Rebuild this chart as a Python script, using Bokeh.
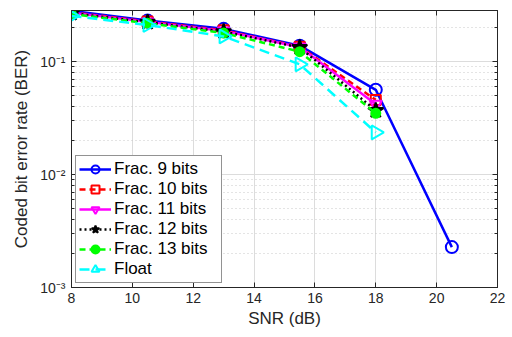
import math
from bokeh.plotting import figure
from bokeh.models import (Legend, LegendItem, LinearAxis, LogAxis, FixedTicker,
                          Range1d)
from bokeh.embed import file_html
from bokeh.resources import INLINE

snr = [8, 10.5, 13, 15.5, 18, 20.5]
frac9 = [0.283, 0.232, 0.196, 0.139, 0.0565, 0.00228]
frac10 = [0.275, 0.228, 0.190, 0.136, 0.046]
frac11 = [0.272, 0.226, 0.188, 0.135, 0.042]
frac12 = [0.270, 0.224, 0.185, 0.134, 0.037]
frac13 = [0.265, 0.220, 0.180, 0.123, 0.035]
float_ber = [0.255, 0.212, 0.168, 0.095, 0.0237]
labels = ["Frac. 9 bits", "Frac. 10 bits", "Frac. 11 bits", "Frac. 12 bits",
          "Frac. 13 bits", "Float"]
x_ticks = [8, 10, 12, 14, 16, 18, 20, 22]
y_ticks = [0.001, 0.01, 0.1]
y_tick_labels = {0.001: "10\u207b\u00b3", 0.01: "10\u207b\u00b2", 0.1: "10\u207b\u00b9"}

FONT = "Liberation Sans"
AX = "#262626"
minor = [m * 10.0**e for e in (-3, -2, -1) for m in range(2, 10)]

p = figure(width=512, height=337, output_backend="svg", toolbar_location=None,
           y_axis_type="log", x_range=Range1d(8, 22), y_range=Range1d(0.001, 0.285),
           min_border_left=71, min_border_right=15, min_border_top=10,
           min_border_bottom=50)
p.frame_width = 426
p.frame_height = 277
p.outline_line_color = AX
p.outline_line_width = 1
p.background_fill_color = "white"
p.border_fill_color = "white"

def style_axis(ax, labels_on=True):
    ax.axis_line_color = AX
    ax.major_tick_line_color = AX
    ax.minor_tick_line_color = AX
    ax.major_tick_in = 5
    ax.major_tick_out = 0
    ax.minor_tick_in = 3
    ax.minor_tick_out = 0
    ax.major_label_text_font = FONT
    ax.major_label_text_font_size = "14px"
    ax.major_label_text_color = AX
    ax.axis_label_text_font = FONT
    ax.axis_label_text_font_size = "17px"
    ax.axis_label_text_font_style = "normal"
    ax.axis_label_text_color = AX
    if not labels_on:
        ax.major_label_text_color = None

xa = p.xaxis[0]
xa.ticker = FixedTicker(ticks=x_ticks)
xa.axis_label = "SNR (dB)"
style_axis(xa)
xa.minor_tick_line_color = None
xa.major_label_standoff = 5
xa.axis_label_standoff = 3

ya = p.yaxis[0]
ya.ticker = FixedTicker(ticks=y_ticks, minor_ticks=minor)
ya.axis_label = "Coded bit error rate (BER)"
ya.major_label_overrides = y_tick_labels
style_axis(ya)
ya.major_label_standoff = 6
ya.axis_label_standoff = 6

top = LinearAxis(ticker=FixedTicker(ticks=x_ticks))
style_axis(top, False)
top.minor_tick_line_color = None
top.major_label_standoff = 0
p.add_layout(top, "above")
right = LogAxis(ticker=FixedTicker(ticks=y_ticks, minor_ticks=minor))
style_axis(right, False)
right.major_label_standoff = 0
p.add_layout(right, "right")

p.xgrid.ticker = FixedTicker(ticks=x_ticks)
p.xgrid.grid_line_color = "#dcdcdc"
p.ygrid.grid_line_color = "#dcdcdc"
p.ygrid.minor_grid_line_color = "#c8c8c8"
p.ygrid.minor_grid_line_dash = "1 3"

series = [
    (frac9, "#0000ff", "solid", "circle", 12, None),
    (frac10, "#ff0000", "6 4", "square", 10, None),
    (frac11, "#ff00ff", "solid", "inverted_triangle", 12, None),
    (frac12, "#000000", "2 3", "star", 16, "#000000"),
    (frac13, "#00ff00", "6 4", "circle", 9, "#00ff00"),
    (float_ber, "#00ffff", "10 6", "triangle", 14, None),
]
items = []
for (vals, col, dash, mk, sz, fill), lab in zip(series, labels):
    xs = snr[:len(vals)]
    r1 = p.line(xs, vals, line_color=col, line_width=2.5, line_dash=dash)
    kw = {}
    if lab == "Float":
        kw["angle"] = -math.pi / 2
    r2 = p.scatter(xs, vals, marker=mk, size=sz, line_color=col, line_width=2,
                   fill_color=fill, **kw)
    items.append(LegendItem(label=lab, renderers=[r1, r2]))

legend = Legend(items=items, location="bottom_left")
legend.glyph_width = 32
legend.glyph_height = 20
legend.label_height = 18
legend.label_width = 104
legend.spacing = 0
legend.padding = 3
legend.margin = 4
legend.label_standoff = 3
legend.label_text_font = FONT
legend.label_text_font_size = "17px"
legend.label_text_color = "#000000"
legend.border_line_color = AX
legend.border_line_width = 1
legend.background_fill_alpha = 1.0
p.add_layout(legend)

open("out.html", "w").write(file_html(p, INLINE))
